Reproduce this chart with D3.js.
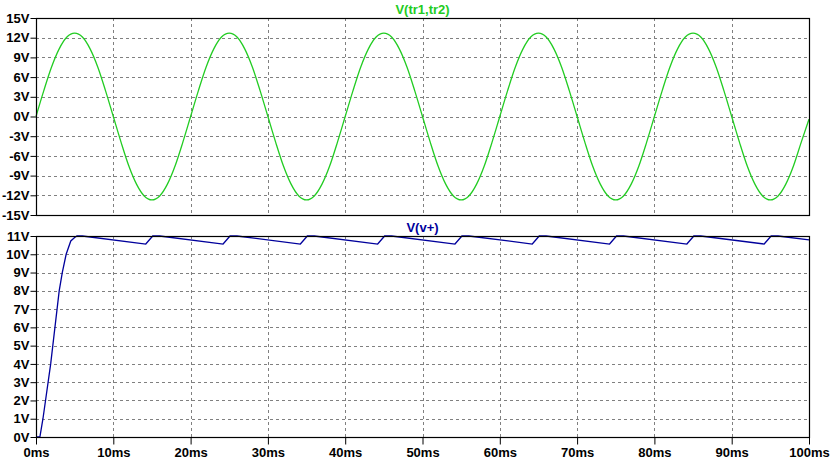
<!DOCTYPE html>
<html>
<head>
<meta charset="utf-8">
<script src="https://cdn.jsdelivr.net/npm/d3@7"></script>
<style>
  body { margin: 0; background: #fff; }
  svg { display: block; font-family: "Liberation Sans", Arial, sans-serif; }
  .tick text { font-size: 13px; font-weight: bold; fill: #000; }
</style>
</head>
<body>
<div id="chart"></div>
<script>
// --- data ---
const timeTicks = [0, 10, 20, 30, 40, 50, 60, 70, 80, 90, 100];      // ms
const topTicks = [-15, -12, -9, -6, -3, 0, 3, 6, 9, 12, 15];          // V
const bottomTicks = [0, 1, 2, 3, 4, 5, 6, 7, 8, 9, 10, 11];           // V

// V(tr1,tr2), sampled every 1 ms
const sineTimes = d3.range(0, 101, 1);
const sineValues = [
  0, 3.9, 7.5, 10.3, 12.1, 12.7, 12.1, 10.3, 7.5, 3.9,
  0, -3.9, -7.5, -10.3, -12.1, -12.7, -12.1, -10.3, -7.5, -3.9,
  0, 3.9, 7.5, 10.3, 12.1, 12.7, 12.1, 10.3, 7.5, 3.9,
  0, -3.9, -7.5, -10.3, -12.1, -12.7, -12.1, -10.3, -7.5, -3.9,
  0, 3.9, 7.5, 10.3, 12.1, 12.7, 12.1, 10.3, 7.5, 3.9,
  0, -3.9, -7.5, -10.3, -12.1, -12.7, -12.1, -10.3, -7.5, -3.9,
  0, 3.9, 7.5, 10.3, 12.1, 12.7, 12.1, 10.3, 7.5, 3.9,
  0, -3.9, -7.5, -10.3, -12.1, -12.7, -12.1, -10.3, -7.5, -3.9,
  0, 3.9, 7.5, 10.3, 12.1, 12.7, 12.1, 10.3, 7.5, 3.9,
  0, -3.9, -7.5, -10.3, -12.1, -12.7, -12.1, -10.3, -7.5, -3.9,
  -0.4
];

// V(v+)
const rectTimes = [
  0, 0.5, 0.9, 1.9, 3.0, 3.4, 3.9, 4.5, 5.0, 5.3, 6.0,
  14.2, 15.1, 16.0, 24.2, 25.1, 26.0, 34.2, 35.1, 36.0,
  44.2, 45.1, 46.0, 54.2, 55.1, 56.0, 64.2, 65.1, 66.0,
  74.2, 75.1, 76.0, 84.2, 85.1, 86.0, 94.2, 95.1, 96.0, 100
];
const rectValues = [
  0, 0, 1, 4, 8, 9, 10, 10.73, 10.92, 11.0, 11.0,
  10.56, 11.0, 11.0, 10.56, 11.0, 11.0, 10.56, 11.0, 11.0,
  10.56, 11.0, 11.0, 10.56, 11.0, 11.0, 10.56, 11.0, 11.0,
  10.56, 11.0, 11.0, 10.56, 11.0, 11.0, 10.56, 11.0, 11.0, 10.79
];

// --- layout ---
const W = 831, H = 463;
const left = 36, right = 809;
const topPane = { y0: 18, y1: 215, title: "V(tr1,tr2)", color: "#22cc22" };
const botPane = { y0: 236, y1: 437, title: "V(v+)", color: "#00009c" };

const svg = d3.select("#chart").append("svg")
  .attr("width", W)
  .attr("height", H);

const x = d3.scaleLinear().domain([0, 100]).range([left, right]);
const yTop = d3.scaleLinear().domain([-15, 15]).range([topPane.y1, topPane.y0]);
const yBot = d3.scaleLinear().domain([0, 11]).range([botPane.y1, botPane.y0]);

function drawPane(pane, y, ticks, times, values, curve, showX) {
  const g = svg.append("g");

  // grid
  g.append("g").selectAll("line")
    .data(timeTicks.slice(1, -1))
    .join("line")
      .attr("x1", d => Math.round(x(d)) + 0.5)
      .attr("x2", d => Math.round(x(d)) + 0.5)
      .attr("y1", pane.y0)
      .attr("y2", pane.y1)
      .attr("stroke", "#808080")
      .attr("stroke-dasharray", "3,3");
  g.append("g").selectAll("line")
    .data(ticks.slice(1, -1))
    .join("line")
      .attr("x1", left)
      .attr("x2", right)
      .attr("y1", d => Math.round(y(d)) + 0.5)
      .attr("y2", d => Math.round(y(d)) + 0.5)
      .attr("stroke", "#808080")
      .attr("stroke-dasharray", "3,3");

  // y axis
  const ya = g.append("g")
    .attr("transform", `translate(${left + 0.5},0)`)
    .call(d3.axisLeft(y).tickValues(ticks).tickFormat(d => d + "V").tickSize(6).tickPadding(1));
  ya.select(".domain").remove();

  if (showX) {
    const xa = g.append("g")
      .attr("transform", `translate(0,${pane.y1 + 0.5})`)
      .call(d3.axisBottom(x).tickValues(timeTicks).tickFormat(d => d + "ms").tickSize(7).tickPadding(3));
    xa.select(".domain").remove();
  }

  // trace
  const line = d3.line()
    .x((d, i) => x(times[i]))
    .y(d => y(d))
    .curve(curve);
  g.append("path")
    .datum(values)
    .attr("fill", "none")
    .attr("stroke", pane.color)
    .attr("stroke-width", 1.3)
    .attr("d", line);

  // frame
  g.append("rect")
    .attr("x", left + 0.5)
    .attr("y", pane.y0 + 0.5)
    .attr("width", right - left)
    .attr("height", pane.y1 - pane.y0)
    .attr("fill", "none")
    .attr("stroke", "#000")
    .attr("stroke-width", 1.2);

  // title
  g.append("text")
    .attr("x", (left + right) / 2)
    .attr("y", pane.y0 - 4)
    .attr("text-anchor", "middle")
    .attr("font-size", 13)
    .attr("font-weight", "bold")
    .attr("fill", pane.color)
    .text(pane.title);
}

drawPane(topPane, yTop, topTicks, sineTimes, sineValues, d3.curveMonotoneX, false);
drawPane(botPane, yBot, bottomTicks, rectTimes, rectValues, d3.curveLinear, true);
</script>
</body>
</html>
